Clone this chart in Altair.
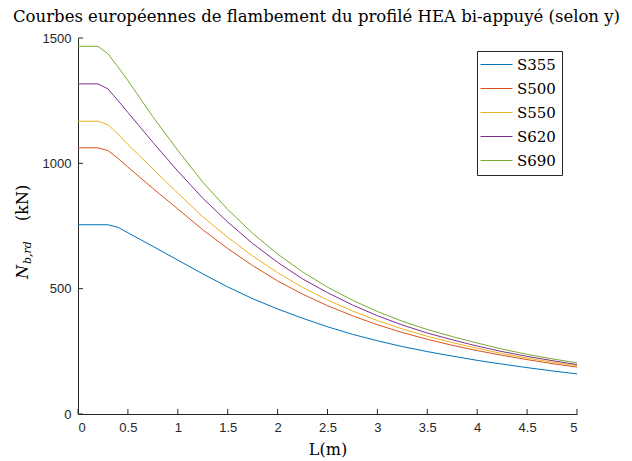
import altair as alt
import pandas as pd

# Longueur de flambement L (m)
L_m = [0, 0.1, 0.2, 0.3, 0.4, 0.5, 0.75, 1.0, 1.25, 1.5, 1.75, 2.0, 2.25, 2.5,
       2.75, 3.0, 3.25, 3.5, 3.75, 4.0, 4.25, 4.5, 4.75, 5.0]

# N_b,rd (kN)
S355 = [755, 755, 755, 755, 745, 723, 669, 614, 559, 507, 460, 419, 382, 348,
        318, 292, 269, 249, 231, 214, 199, 185, 172, 160]
S500 = [1062, 1062, 1062, 1051, 1020, 985, 900, 818, 735, 660, 592, 531, 478, 432,
        392, 356, 325, 298, 274, 253, 234, 217, 201, 187]
S550 = [1168, 1168, 1168, 1154, 1117, 1075, 978, 881, 787, 705, 630, 564, 505, 455,
        411, 373, 339, 310, 285, 262, 241, 223, 207, 193]
S620 = [1317, 1317, 1317, 1297, 1251, 1203, 1084, 969, 861, 766, 680, 605, 539, 484,
        435, 392, 355, 323, 296, 271, 249, 230, 213, 197]
S690 = [1467, 1467, 1467, 1437, 1385, 1330, 1186, 1052, 925, 816, 721, 638, 567, 506,
        454, 409, 370, 337, 309, 283, 259, 238, 220, 204]

grades = ["S355", "S500", "S550", "S620", "S690"]
colors = ["#0072BD", "#D95319", "#EDB120", "#7E2F8E", "#77AC30"]
x_ticks = [0, 0.5, 1, 1.5, 2, 2.5, 3, 3.5, 4, 4.5, 5]
y_ticks = [0, 500, 1000, 1500]

rows = []
for g, vals in zip(grades, [S355, S500, S550, S620, S690]):
    for L, v in zip(L_m, vals):
        rows.append({"L": L, "N": v, "acier": g})
df = pd.DataFrame(rows)

W, H = 499, 376
AX = "#262626"
SERIF = "DejaVu Serif"
SANS = "Liberation Sans"

x_scale = alt.Scale(domain=[0, 5], nice=False, zero=False)
y_scale = alt.Scale(domain=[0, 1500], nice=False)

lines = alt.Chart(df).mark_line(strokeWidth=1).encode(
    x=alt.X("L:Q", scale=x_scale,
            axis=alt.Axis(values=x_ticks, format="~g", title="L(m)", grid=False,
                          ticks=False, tickSize=0, labelPadding=7,
                          labelFont=SANS, labelFontSize=13, labelColor=AX,
                          domainColor=AX, titleFont=SERIF, titleFontSize=16,
                          titleFontWeight="normal", titleColor="black",
                          titlePadding=7)),
    y=alt.Y("N:Q", scale=y_scale,
            axis=alt.Axis(values=y_ticks, format="d", title=None, grid=False,
                          ticks=False, tickSize=0, labelPadding=7,
                          labelFont=SANS, labelFontSize=13, labelColor=AX,
                          domainColor=AX)),
    color=alt.Color("acier:N", scale=alt.Scale(domain=grades, range=colors),
                    legend=alt.Legend(title=None, orient="none", legendX=399, legendY=13,
                                      strokeColor=AX, fillColor="white", padding=6,
                                      symbolType="M-3.2,0H3.2", symbolSize=100,
                                      symbolStrokeWidth=1, symbolOffset=6,
                                      labelOffset=13, labelFont=SERIF,
                                      labelFontSize=15, labelColor="black",
                                      rowPadding=8)),
)

xt = alt.Chart(pd.DataFrame({"L": x_ticks})).mark_rule(color=AX, strokeWidth=1).encode(
    x=alt.X("L:Q", scale=x_scale), y=alt.value(H), y2=alt.value(H - 5))
yt = alt.Chart(pd.DataFrame({"N": y_ticks})).mark_rule(color=AX, strokeWidth=1).encode(
    y=alt.Y("N:Q", scale=y_scale), x=alt.value(0), x2=alt.value(5))

t_N = alt.Chart().mark_text(text="N", font=SERIF, fontStyle="italic", fontSize=16,
                            angle=270, align="left", baseline="alphabetic").encode(
    x=alt.value(-50), y=alt.value(241))
t_sub = alt.Chart().mark_text(text="b,rd", font=SERIF, fontStyle="italic", fontSize=11,
                              angle=270, align="left", baseline="alphabetic").encode(
    x=alt.value(-47), y=alt.value(226))
t_kN = alt.Chart().mark_text(text="(kN)", font=SERIF, fontSize=16,
                             angle=270, align="left", baseline="alphabetic").encode(
    x=alt.value(-50), y=alt.value(183))

chart = alt.layer(lines, xt, yt, t_N, t_sub, t_kN).properties(
    width=W, height=H,
    title=alt.TitleParams("Courbes européennes de flambement du profilé HEA bi-appuyé (selon y)",
                          font=SERIF, fontSize=16.5, fontWeight="normal", color="black",
                          anchor="middle", offset=7, dx=-11),
    padding={"left": 70, "top": 30, "right": 47, "bottom": 45},
    autosize=alt.AutoSizeParams(type="none"),
).configure_view(stroke=None)

chart.save("out.html", embed_options={"renderer": "svg", "actions": False})
